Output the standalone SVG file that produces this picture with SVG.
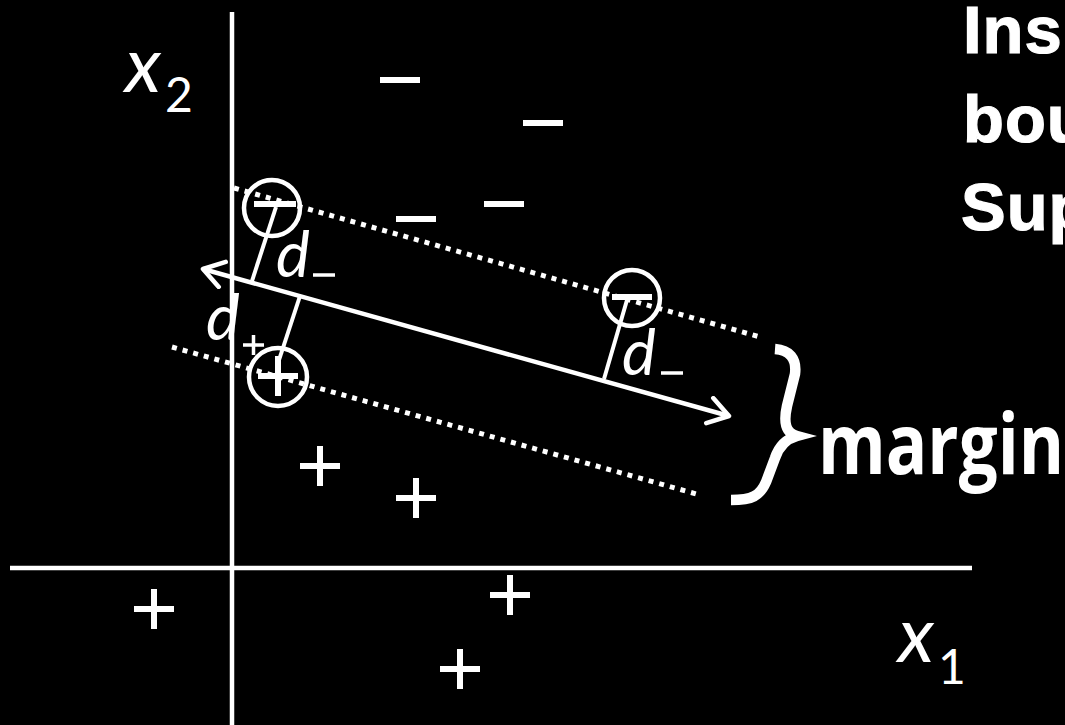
<svg xmlns="http://www.w3.org/2000/svg" width="1065" height="725" viewBox="0 0 1065 725">
<style>
.ax{stroke:#fff;stroke-width:4.5;fill:none}
.sym{stroke:#fff;stroke-width:6;fill:none}
.dot{stroke:#fff;stroke-width:5;stroke-dasharray:5 6;fill:none}
.circ{stroke:#fff;stroke-width:4.5;fill:none}
.perp{stroke:#fff;stroke-width:4;fill:none}
.lbl{font-family:Lato,"Open Sans",sans-serif;fill:#fff}
.hd{font-family:"Liberation Sans",Arial,sans-serif;font-weight:bold;fill:#fff;font-size:67px;letter-spacing:1px;stroke:#fff;stroke-width:1.2px}
</style>
<defs>
<marker id="ah" markerUnits="userSpaceOnUse" markerWidth="40" markerHeight="40" refX="26" refY="15" orient="auto-start-reverse">
<path d="M6,2 L26,15 L6,28" stroke="#fff" stroke-width="4.5" fill="none" stroke-linecap="round" stroke-linejoin="round"/>
</marker>
</defs>
<rect width="1065" height="725" fill="#000"/>
<g id="axes">
<line class="ax" x1="232" y1="12" x2="232" y2="725"/>
<line class="ax" x1="10" y1="568" x2="972" y2="568"/>
</g>
<g id="axis-labels">
<text class="lbl" x="125" y="92" font-size="78" font-style="italic">x</text>
<text class="lbl" x="165" y="112" font-size="48">2</text>
<text class="lbl" x="898" y="662" font-size="78" font-style="italic">x</text>
<text class="lbl" x="938" y="684" font-size="48">1</text>
</g>
<g id="minus-points">
<line class="sym" x1="380" y1="80" x2="420" y2="80"/>
<line class="sym" x1="523" y1="123" x2="563" y2="123"/>
<line class="sym" x1="396" y1="219" x2="436" y2="219"/>
<line class="sym" x1="484" y1="204" x2="524" y2="204"/>
</g>
<g id="plus-points">
<path class="sym" d="M300,466 h40 M320,446 v40"/>
<path class="sym" d="M396,498 h40 M416,478 v40"/>
<path class="sym" d="M134,609 h40 M154,589 v40"/>
<path class="sym" d="M490,595 h40 M510,575 v40"/>
<path class="sym" d="M440,669 h40 M460,649 v40"/>
</g>
<g id="connectors">
<line class="dot" x1="234" y1="188" x2="760" y2="337"/>
<line class="dot" x1="172" y1="347" x2="700" y2="495"/>
<line x1="203" y1="269" x2="729" y2="416" stroke="#fff" stroke-width="4.5" marker-start="url(#ah)" marker-end="url(#ah)"/>
<line class="perp" x1="276" y1="207" x2="252" y2="281"/>
<line class="perp" x1="300" y1="296" x2="279" y2="360"/>
<line class="perp" x1="627" y1="300" x2="604" y2="379"/>
</g>
<g id="sv1">
<circle class="circ" cx="272" cy="208" r="28"/>
<line class="sym" x1="254" y1="204" x2="296" y2="204"/>
</g>
<g id="sv2">
<circle class="circ" cx="632" cy="298" r="28"/>
<line class="sym" x1="612" y1="297" x2="652" y2="297"/>
</g>
<g id="sv3">
<circle class="circ" cx="278" cy="377" r="29"/>
<path class="sym" d="M258,376 h40 M278,356 v40"/>
</g>
<g id="d-labels">
<text class="lbl" x="276" y="277" font-size="64" font-style="italic">d</text>
<line x1="313" y1="275" x2="335" y2="275" stroke="#fff" stroke-width="3.5"/>
<text class="lbl" x="206" y="340" font-size="64" font-style="italic">d</text>
<path d="M243,345 h21 M253.5,335 v20" stroke="#fff" stroke-width="3.5"/>
<text class="lbl" x="622" y="375" font-size="64" font-style="italic">d</text>
<line x1="661" y1="373" x2="683" y2="373" stroke="#fff" stroke-width="3.5"/>
</g>
<g id="brace">
<path d="M775,349 C789,350 797,358 795,374 L787,406 C783,424 786,433 797,436 C786,439 779,446 775,458 L766,482 C760,496 752,500 731,500" stroke="#fff" stroke-width="10.5" fill="none"/>
</g>
<g id="margin-label">
<text x="818" y="474" font-family="'Open Sans',Lato,sans-serif" font-weight="bold" font-size="84" fill="#fff" textLength="246" lengthAdjust="spacingAndGlyphs">margin</text>
</g>
<g id="heading">
<text class="hd" x="963" y="53">Ins</text>
<text class="hd" x="963" y="142">bou</text>
<text class="hd" x="961" y="230">Sup</text>
</g>
</svg>
